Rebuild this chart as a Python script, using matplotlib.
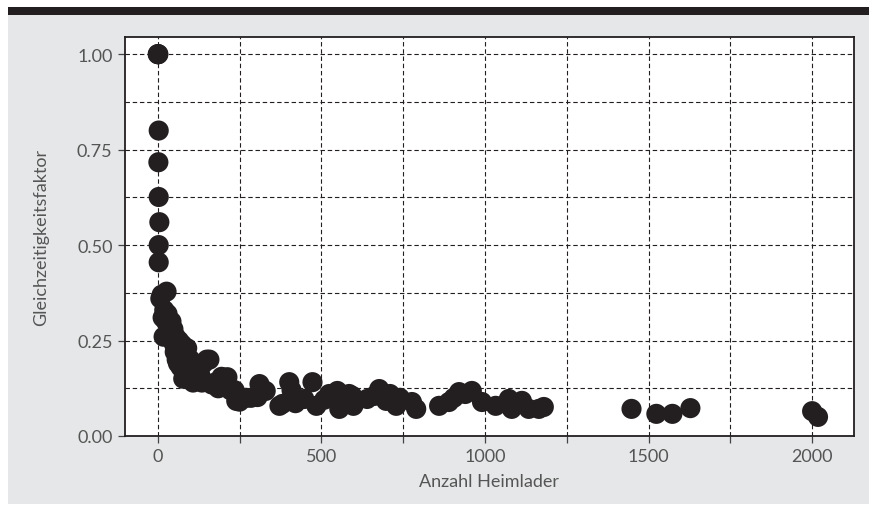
import matplotlib.pyplot as plt
from matplotlib.patches import Rectangle
from matplotlib.ticker import MultipleLocator

# Anzahl Heimlader vs. Gleichzeitigkeitsfaktor
anzahl = [
    0, 1, 2, 3, 2, 3, 5, 3, 3,
    8, 12, 27, 15, 20, 25, 30, 18, 35, 40, 42, 45, 48, 50, 52, 55, 58, 60,
    62, 65, 68, 70, 72, 75, 78, 80, 85, 88, 90, 95, 100, 105, 108, 110, 115,
    120, 125, 130, 135, 140, 150, 158, 165, 175, 185, 195, 205, 213, 222,
    235, 240, 250, 270, 285, 305, 311, 330, 372, 381, 402, 409, 421, 448,
    473, 485, 509, 524, 549, 555, 585, 595, 598, 640, 662, 677, 698, 710,
    729, 740, 777, 790, 860, 890, 905, 921, 940, 960, 991, 1033, 1073,
    1082, 1113, 1134, 1165, 1180, 1448, 1524, 1573, 1628, 2000, 2018,
]
faktor = [
    1.00, 1.00, 1.00, 0.80, 0.717, 0.626, 0.56, 0.50, 0.455,
    0.36, 0.37, 0.378, 0.31, 0.33, 0.30, 0.32, 0.26, 0.29, 0.27, 0.30, 0.25,
    0.28, 0.24, 0.22, 0.26, 0.20, 0.23, 0.19, 0.25, 0.21, 0.18, 0.22, 0.24,
    0.15, 0.19, 0.21, 0.17, 0.23, 0.18, 0.20, 0.16, 0.14, 0.19, 0.17, 0.15,
    0.18, 0.16, 0.14, 0.19, 0.20, 0.20, 0.135, 0.14, 0.125, 0.155, 0.15,
    0.154, 0.12, 0.12, 0.092, 0.09, 0.10, 0.10, 0.102, 0.136, 0.118, 0.079,
    0.084, 0.141, 0.12, 0.086, 0.097, 0.141, 0.079, 0.095, 0.11, 0.118,
    0.071, 0.11, 0.105, 0.079, 0.097, 0.105, 0.123, 0.092, 0.11, 0.079,
    0.10, 0.089, 0.071, 0.079, 0.089, 0.10, 0.115, 0.11, 0.118, 0.089,
    0.079, 0.097, 0.071, 0.092, 0.071, 0.071, 0.076, 0.071, 0.058, 0.058,
    0.073, 0.065, 0.05,
]

plt.rcParams['font.family'] = ['Lato', 'DejaVu Sans']

fig = plt.figure(figsize=(8.69, 5.10), dpi=100)
fig.patch.set_facecolor('white')
# grey panel and dark bar on top
fig.patches.append(Rectangle((8 / 869, 5 / 510), 861 / 869, 489 / 510,
                             transform=fig.transFigure, facecolor='#e6e7e8',
                             edgecolor='none', zorder=-2))
fig.patches.append(Rectangle((8 / 869, 494 / 510), 861 / 869, 8 / 510,
                             transform=fig.transFigure, facecolor='#231f20',
                             edgecolor='none', zorder=-2))

ax = fig.add_axes([125 / 869, 73 / 510, 729 / 869, 399 / 510])
ax.set_facecolor('white')
ax.scatter(anzahl, faktor, s=210, color='#231f20', edgecolors='none',
           zorder=3, clip_on=False)

ax.set_xlim(-100, 2128)
ax.set_ylim(0, 1.045)
ax.xaxis.set_major_locator(MultipleLocator(500))
ax.xaxis.set_minor_locator(MultipleLocator(250))
ax.yaxis.set_major_locator(MultipleLocator(0.25))
ax.yaxis.set_minor_locator(MultipleLocator(0.125))
ax.yaxis.set_major_formatter(plt.FormatStrFormatter('%.2f'))

ax.grid(which='both', color='#231f20', linewidth=0.8,
        linestyle=(0, (4, 2.5)), zorder=1)
ax.set_axisbelow(True)

for s in ax.spines.values():
    s.set_color('#231f20')
    s.set_linewidth(1.3)

ax.tick_params(which='major', direction='out', length=5, width=0.9,
               color='#444444', labelsize=13, labelcolor='#555555', pad=4)
ax.tick_params(which='minor', direction='out', length=5, width=0.9,
               color='#444444')
ax.tick_params(axis='y', which='minor', length=0)

ax.set_xlabel('Anzahl Heimlader', fontsize=13, color='#555555', labelpad=6)
ax.set_ylabel('Gleichzeitigkeitsfaktor', fontsize=13, color='#555555',
              labelpad=20)

fig.savefig('out.png', dpi=100)
